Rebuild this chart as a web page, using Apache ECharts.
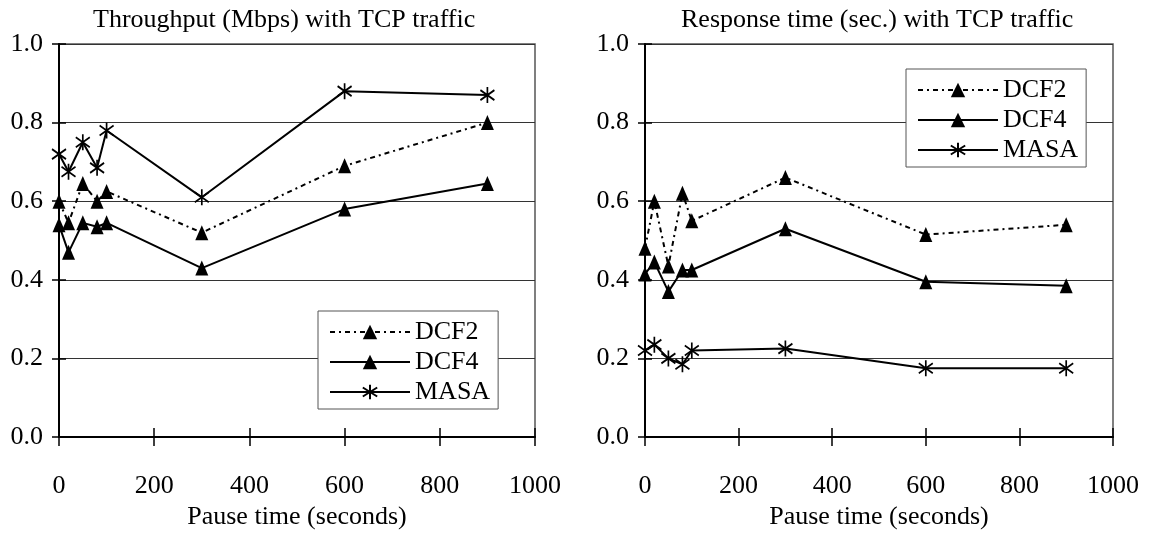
<!DOCTYPE html>
<html>
<head>
<meta charset="utf-8">
<title>Throughput and response time with TCP traffic</title>
<script src="https://cdn.jsdelivr.net/npm/echarts@6/dist/echarts.min.js"></script>
<style>
  html, body { margin: 0; padding: 0; background: #fff; }
  #chart { width: 1151px; height: 535px; }
</style>
</head>
<body>
<div id="chart"></div>
<script>
// Pause times (seconds) shared by every series
const pauseTimes = [0, 20, 50, 80, 100, 300, 600, 900];

// Throughput (Mbps)
const throughputDCF2 = [0.60, 0.545, 0.645, 0.60, 0.625, 0.52, 0.69, 0.80];
const throughputDCF4 = [0.54, 0.47, 0.545, 0.535, 0.545, 0.43, 0.58, 0.645];
const throughputMASA = [0.72, 0.675, 0.75, 0.685, 0.78, 0.61, 0.88, 0.87];

// Response time (sec.)
const responseDCF2 = [0.48, 0.60, 0.435, 0.62, 0.55, 0.66, 0.515, 0.54];
const responseDCF4 = [0.415, 0.445, 0.37, 0.425, 0.425, 0.53, 0.395, 0.385];
const responseMASA = [0.22, 0.235, 0.20, 0.185, 0.22, 0.225, 0.175, 0.175];

const seriesNames = ['DCF2', 'DCF4', 'MASA'];
const panelTitles = ['Throughput (Mbps) with TCP traffic', 'Response time (sec.) with TCP traffic'];
const xAxisName = 'Pause time (seconds)';

const FONT = 'Liberation Serif, Times New Roman, serif';
const starSymbol = 'path://M7,0L7,16M0,3L14,13M0,13L14,3';

function pairs(values) {
  return pauseTimes.map((t, i) => [t, values[i]]);
}

function makeSeries(name, values, idx, dashed, star) {
  return {
    name: name,
    type: 'line',
    xAxisIndex: idx * 2,
    yAxisIndex: idx * 2,
    data: pairs(values),
    color: '#000',
    symbol: star ? starSymbol : 'triangle',
    symbolSize: star ? [14, 16] : [13, 15],
    showAllSymbol: true,
    lineStyle: { color: '#000', width: 2, type: dashed ? [5, 4, 2, 4] : 'solid' },
    itemStyle: star
      ? { color: '#000', borderColor: '#000', borderWidth: 1.8 }
      : { color: '#000', borderWidth: 0 },
    emphasis: { disabled: true },
    animation: false
  };
}

function xAxes(gridIndex) {
  const base = {
    gridIndex: gridIndex,
    type: 'value',
    min: 0,
    max: 1000,
    interval: 200,
    position: 'bottom',
    splitLine: { show: false }
  };
  return [
    Object.assign({}, base, {
      name: xAxisName,
      nameLocation: 'middle',
      nameGap: 58,
      nameTextStyle: { fontFamily: FONT, fontSize: 26, color: '#000' },
      axisLine: { show: true, lineStyle: { color: '#000', width: 2 } },
      axisTick: { show: true, length: 9, lineStyle: { color: '#000', width: 1.5 } },
      axisLabel: {
        fontFamily: FONT, fontSize: 26, color: '#000', margin: 36,
        formatter: v => String(v)
      }
    }),
    Object.assign({}, base, {
      axisLine: { show: false },
      axisTick: { show: true, inside: true, length: 9, lineStyle: { color: '#000', width: 1.5 } },
      axisLabel: { show: false }
    })
  ];
}

function yAxes(gridIndex) {
  const base = {
    gridIndex: gridIndex,
    type: 'value',
    min: 0,
    max: 1,
    interval: 0.2,
    position: 'left'
  };
  return [
    Object.assign({}, base, {
      axisLine: { show: true, lineStyle: { color: '#000', width: 2 } },
      axisTick: { show: true, length: 7, lineStyle: { color: '#000', width: 1.5 } },
      axisLabel: {
        fontFamily: FONT, fontSize: 26, color: '#000', margin: 16,
        formatter: v => v.toFixed(1)
      },
      splitLine: { show: true, lineStyle: { color: '#333', width: 1 } }
    }),
    Object.assign({}, base, {
      axisLine: { show: false },
      axisTick: { show: true, inside: true, length: 7, lineStyle: { color: '#000', width: 1.5 } },
      axisLabel: { show: false },
      splitLine: { show: false }
    })
  ];
}

function legend(left, top) {
  return {
    data: seriesNames.map(n => ({ name: n })),
    orient: 'vertical',
    left: left,
    top: top,
    itemWidth: 80,
    itemHeight: 18,
    itemGap: 4,
    padding: [8, 8, 4, 11],
    backgroundColor: '#fff',
    borderColor: '#555',
    borderWidth: 1,
    borderRadius: 0,
    selectedMode: false,
    textStyle: { fontFamily: FONT, fontSize: 26, color: '#000', padding: [0, 0, 0, 0] }
  };
}

const chart = echarts.init(document.getElementById('chart'), null, { renderer: 'canvas' });

const option = {
  backgroundColor: '#fff',
  animation: false,
  title: [
    { text: panelTitles[0], left: 88, top: 2,
      textStyle: { fontFamily: FONT, fontSize: 26, fontWeight: 'normal', color: '#000' } },
    { text: panelTitles[1], left: 676, top: 2,
      textStyle: { fontFamily: FONT, fontSize: 26, fontWeight: 'normal', color: '#000' } }
  ],
  grid: [
    { left: 59, right: 616, top: 44, bottom: 95, show: true, borderColor: '#555', borderWidth: 1.5, backgroundColor: 'transparent' },
    { left: 645, right: 38, top: 44, bottom: 98, show: true, borderColor: '#555', borderWidth: 1.5, backgroundColor: 'transparent' }
  ],
  xAxis: xAxes(0).concat(xAxes(1)),
  yAxis: yAxes(0).concat(yAxes(1)),
  legend: [legend(318, 311), legend(906, 69)],
  series: [
    makeSeries('DCF2', throughputDCF2, 0, true, false),
    makeSeries('DCF4', throughputDCF4, 0, false, false),
    makeSeries('MASA', throughputMASA, 0, false, true),
    makeSeries('DCF2', responseDCF2, 1, true, false),
    makeSeries('DCF4', responseDCF4, 1, false, false),
    makeSeries('MASA', responseMASA, 1, false, true)
  ]
};

chart.setOption(option);
</script>
</body>
</html>
